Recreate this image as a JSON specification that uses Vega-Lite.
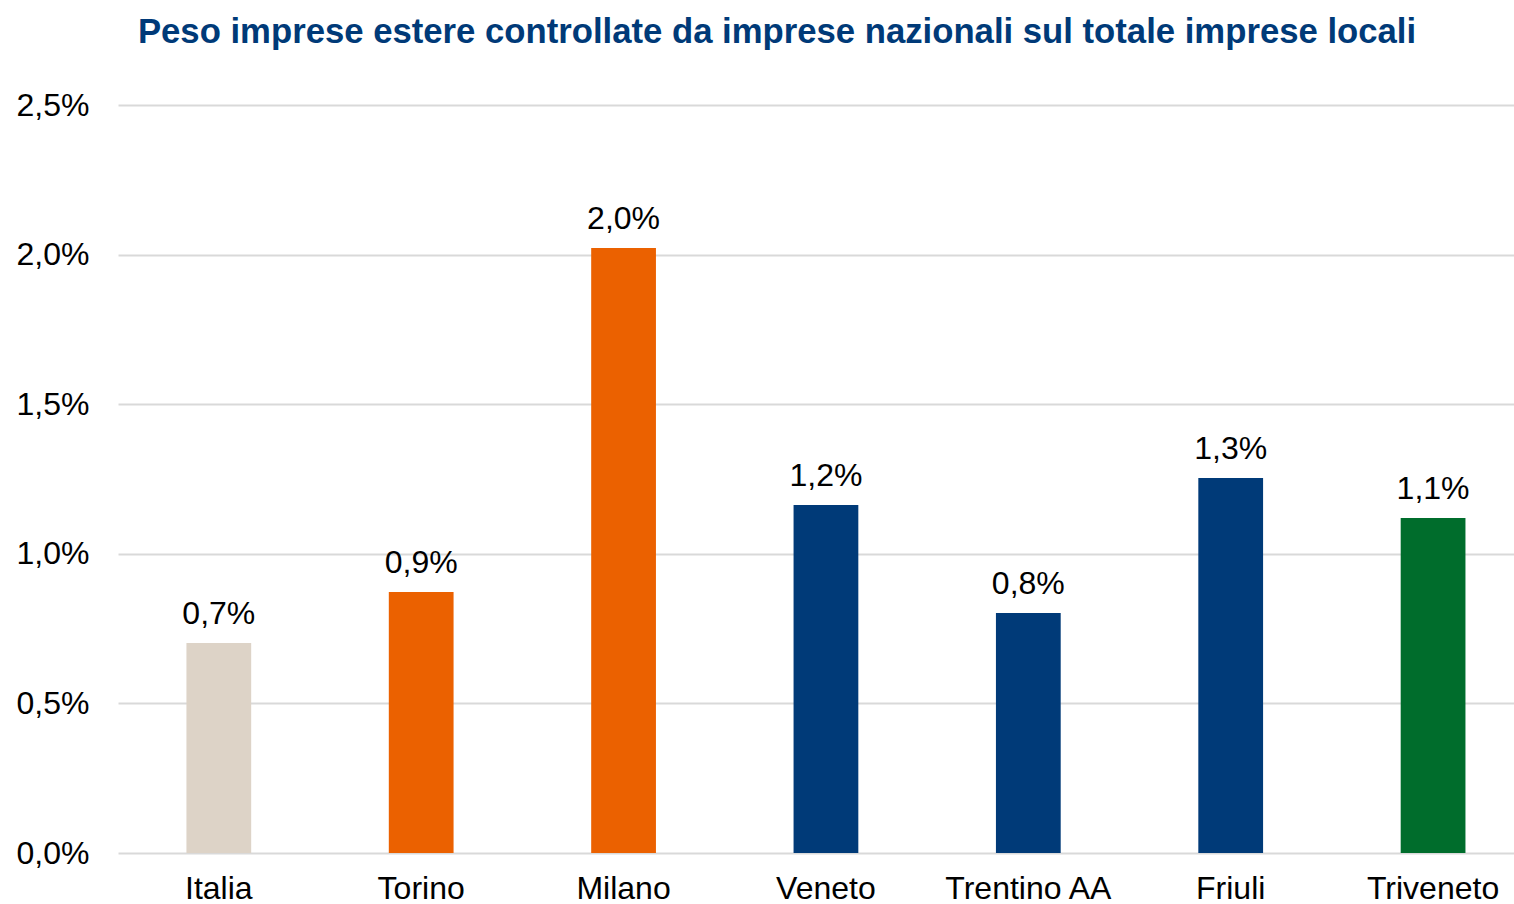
{
  "$schema": "https://vega.github.io/schema/vega-lite/v6.json",
  "width": 1514,
  "height": 904,
  "autosize": {"type": "fit", "contains": "padding"},
  "padding": {"left": 16, "top": 15, "right": 0, "bottom": 0},
  "background": "white",
  "config": {
    "locale": {"number": {"decimal": ",", "thousands": ".", "grouping": [3], "currency": ["€", ""]}},
    "view": {"stroke": null},
    "font": "Liberation Sans"
  },
  "title": {
    "text": "Peso imprese estere controllate da imprese nazionali sul totale imprese locali",
    "font": "Liberation Sans",
    "fontSize": 34.7,
    "fontWeight": "bold",
    "color": "#003A78",
    "anchor": "middle",
    "frame": "group",
    "dx": -39,
    "offset": 38
  },
  "data": {
    "values": [
      {"territorio": "Italia", "gruppo": "Italia", "quota": 0.00702},
      {"territorio": "Torino", "gruppo": "Nord Ovest", "quota": 0.00872},
      {"territorio": "Milano", "gruppo": "Nord Ovest", "quota": 0.02022},
      {"territorio": "Veneto", "gruppo": "Regioni Nord Est", "quota": 0.01163},
      {"territorio": "Trentino AA", "gruppo": "Regioni Nord Est", "quota": 0.00802},
      {"territorio": "Friuli", "gruppo": "Regioni Nord Est", "quota": 0.01253},
      {"territorio": "Triveneto", "gruppo": "Triveneto", "quota": 0.0112}
    ]
  },
  "encoding": {
    "x": {
      "field": "territorio",
      "type": "nominal",
      "sort": null,
      "scale": {"paddingInner": 0.68, "paddingOuter": 0.289, "align": 0.585},
      "axis": {
        "title": null,
        "labelAngle": 0,
        "labelFontSize": 32,
        "labelColor": "#000000",
        "labelFont": "Liberation Sans",
        "labelPadding": 20,
        "ticks": false,
        "domain": false,
        "grid": false
      }
    },
    "y": {
      "field": "quota",
      "type": "quantitative",
      "scale": {"domain": [0, 0.025], "nice": false},
      "axis": {
        "title": null,
        "values": [0, 0.005, 0.01, 0.015, 0.02, 0.025],
        "format": ".1%",
        "labelFontSize": 32,
        "labelColor": "#000000",
        "labelFont": "Liberation Sans",
        "labelPadding": 29,
        "ticks": false,
        "domain": false,
        "grid": true,
        "gridColor": "#D9D9D9",
        "gridWidth": 2
      }
    }
  },
  "layer": [
    {
      "mark": {"type": "bar"},
      "encoding": {
        "color": {
          "field": "gruppo",
          "type": "nominal",
          "scale": {
            "domain": ["Italia", "Nord Ovest", "Regioni Nord Est", "Triveneto"],
            "range": ["#DDD3C7", "#EB6100", "#003A78", "#006D2C"]
          },
          "legend": null
        }
      }
    },
    {
      "mark": {"type": "text", "baseline": "alphabetic", "dy": -19, "fontSize": 32, "font": "Liberation Sans", "color": "#000000"},
      "encoding": {
        "text": {"field": "quota", "type": "quantitative", "format": ".1%"}
      }
    }
  ]
}
